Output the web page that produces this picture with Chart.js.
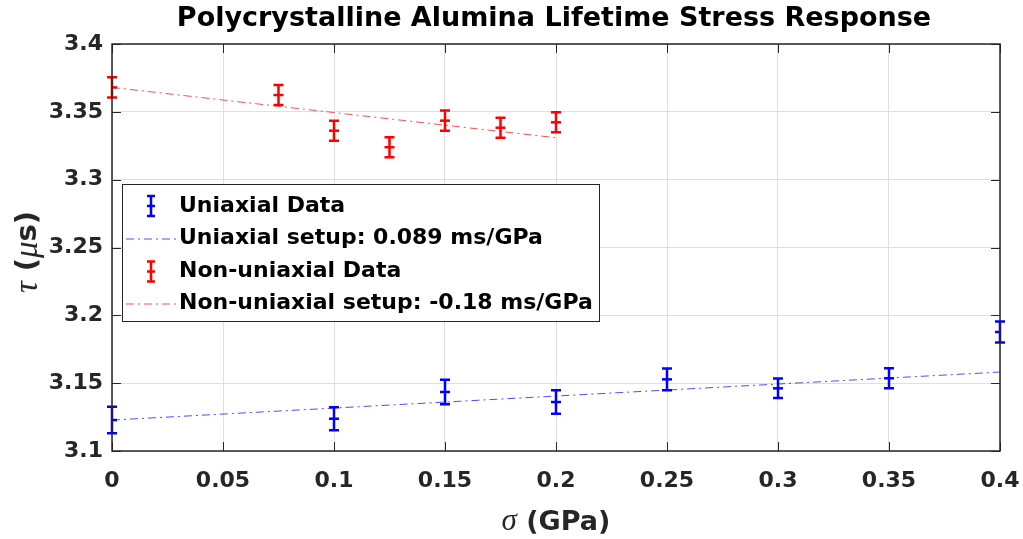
<!DOCTYPE html>
<html>
<head>
<meta charset="utf-8">
<script src="https://cdn.jsdelivr.net/npm/chart.js@4.4.1/dist/chart.umd.min.js"></script>
<style>
html,body{margin:0;padding:0;background:#fff;}
#wrap{width:1023px;height:539px;position:relative;}
</style>
</head>
<body>
<div id="wrap"><canvas id="c" width="1023" height="539"></canvas></div>
<script>
// ---- data ----
const uniX = [0, 0.1, 0.15, 0.2, 0.25, 0.3, 0.35, 0.4];
const uniY = [3.1228, 3.1238, 3.1435, 3.1361, 3.1528, 3.1462, 3.1536, 3.1877];
const uniErr = [0.0098, 0.0085, 0.009, 0.0087, 0.008, 0.0072, 0.0074, 0.0077];
const nonX = [0, 0.075, 0.1, 0.125, 0.15, 0.175, 0.2];
const nonY = [3.368, 3.3624, 3.3361, 3.3239, 3.3435, 3.3383, 3.3423];
const nonErr = [0.0074, 0.0074, 0.0074, 0.0074, 0.0074, 0.0074, 0.0074];
const uniFitX = [0, 0.4];
const uniFitY = [3.1228, 3.1582];
const nonFitX = [0, 0.2];
const nonFitY = [3.368, 3.3309];
const xTicks = [0, 0.05, 0.1, 0.15, 0.2, 0.25, 0.3, 0.35, 0.4];
const xTickLabels = ['0', '0.05', '0.1', '0.15', '0.2', '0.25', '0.3', '0.35', '0.4'];
const yTicks = [3.1, 3.15, 3.2, 3.25, 3.3, 3.35, 3.4];
const yTickLabels = ['3.1', '3.15', '3.2', '3.25', '3.3', '3.35', '3.4'];
const legendLabels = ['Uniaxial Data', 'Uniaxial setup: 0.089 ms/GPa', 'Non-uniaxial Data', 'Non-uniaxial setup: -0.18 ms/GPa'];
const titleText = 'Polycrystalline Alumina Lifetime Stress Response';

const BLUE = '#0000ff', RED = '#ff0000', AX = '#262626';
const FONT = '"DejaVu Sans", sans-serif';
const DASH = [8, 4, 2, 4];

const pts = (xs, ys) => xs.map((x, i) => ({x: x, y: ys[i]}));

const errorBars = {
  id: 'errorBars',
  afterDatasetsDraw(chart) {
    const ctx = chart.ctx, xs = chart.scales.x, ys = chart.scales.y;
    chart.data.datasets.forEach((ds, di) => {
      if (!ds.errors) return;
      ctx.save();
      ctx.strokeStyle = ds.borderColor;
      ctx.lineWidth = 2.5;
      ds.data.forEach((p, i) => {
        const px = xs.getPixelForValue(p.x);
        const y1 = ys.getPixelForValue(p.y - ds.errors[i]);
        const y2 = ys.getPixelForValue(p.y + ds.errors[i]);
        ctx.beginPath();
        ctx.moveTo(px, y1); ctx.lineTo(px, y2);
        ctx.moveTo(px - 5, y1); ctx.lineTo(px + 5, y1);
        ctx.moveTo(px - 5, y2); ctx.lineTo(px + 5, y2);
        ctx.stroke();
      });
      ctx.restore();
    });
  }
};

const frame = {
  id: 'frame',
  afterDraw(chart) {
    const ctx = chart.ctx, a = chart.chartArea, xs = chart.scales.x, ys = chart.scales.y;
    ctx.save();
    ctx.strokeStyle = AX;
    ctx.lineWidth = 1;
    ctx.beginPath();
    xTicks.forEach(v => {
      const px = Math.round(xs.getPixelForValue(v)) + 0.5;
      ctx.moveTo(px, a.bottom); ctx.lineTo(px, a.bottom - 9);
      ctx.moveTo(px, a.top); ctx.lineTo(px, a.top + 9);
    });
    yTicks.forEach(v => {
      const py = Math.round(ys.getPixelForValue(v)) + 0.5;
      ctx.moveTo(a.left, py); ctx.lineTo(a.left + 9, py);
      ctx.moveTo(a.right, py); ctx.lineTo(a.right - 9, py);
    });
    ctx.stroke();
    ctx.lineWidth = 1.5;
    ctx.strokeRect(a.left, a.top, a.right - a.left, a.bottom - a.top);

    // title
    ctx.fillStyle = '#000';
    ctx.font = 'bold 27px ' + FONT;
    ctx.textAlign = 'center';
    ctx.textBaseline = 'middle';
    ctx.fillText(titleText, 554, 19);

    // x axis title
    const xc = 556;
    const sigF = 'italic 31px "Liberation Serif", serif';
    const txtF = 'bold 27px ' + FONT;
    ctx.font = sigF;
    const s1 = 'σ';
    const w1 = ctx.measureText(s1).width;
    ctx.font = txtF;
    const s2 = ' (GPa)';
    const w2 = ctx.measureText(s2).width;
    let x0 = xc - (w1 + w2) / 2;
    ctx.textAlign = 'left';
    ctx.fillStyle = AX;
    ctx.font = sigF;
    ctx.fillText(s1, x0, 522);
    ctx.font = txtF;
    ctx.fillText(s2, x0 + w1, 523);

    // y axis title
    ctx.save();
    ctx.translate(28, 252);
    ctx.rotate(-Math.PI / 2);
    const grF = 'italic 33px "Liberation Serif", serif';
    const yF = 'bold 29px ' + FONT;
    const parts = [['τ', grF], [' (', yF], ['μ', grF], ['s)', yF]];
    let tw = 0;
    parts.forEach(p => { ctx.font = p[1]; tw += ctx.measureText(p[0]).width; });
    let cx = -tw / 2;
    parts.forEach(p => { ctx.font = p[1]; ctx.fillText(p[0], cx, 0); cx += ctx.measureText(p[0]).width; });
    ctx.restore();

    // legend
    const lx = 122, ly = 184, lw = 477, lh = 137;
    ctx.fillStyle = '#fff';
    ctx.fillRect(lx, ly, lw, lh);
    ctx.strokeStyle = AX;
    ctx.lineWidth = 1;
    ctx.strokeRect(lx + 0.5, ly + 0.5, lw, lh);
    const rows = [206, 238.5, 271.5, 303.5];
    const cols = [BLUE, BLUE, RED, RED];
    rows.forEach((ry, i) => {
      ctx.strokeStyle = cols[i];
      if (i % 2 === 0) {
        ctx.lineWidth = 2.5;
        ctx.beginPath();
        ctx.moveTo(151, ry - 10); ctx.lineTo(151, ry + 10);
        ctx.moveTo(147, ry - 10); ctx.lineTo(155, ry - 10);
        ctx.moveTo(147, ry + 10); ctx.lineTo(155, ry + 10);
        ctx.moveTo(147, ry); ctx.lineTo(155, ry);
        ctx.stroke();
      } else {
        ctx.lineWidth = 1;
        ctx.globalAlpha = 0.7;
        ctx.setLineDash(DASH);
        ctx.beginPath();
        ctx.moveTo(126, ry + 0.5); ctx.lineTo(176, ry + 0.5);
        ctx.stroke();
        ctx.setLineDash([]);
        ctx.globalAlpha = 1;
      }
      ctx.fillStyle = '#000';
      ctx.font = 'bold 22px ' + FONT;
      ctx.textAlign = 'left';
      ctx.textBaseline = 'middle';
      ctx.fillText(legendLabels[i], 179, ry);
    });
    ctx.restore();
  }
};

new Chart(document.getElementById('c'), {
  type: 'scatter',
  data: {
    datasets: [
      {label: legendLabels[0], data: pts(uniX, uniY), errors: uniErr, borderColor: BLUE, backgroundColor: BLUE,
       pointStyle: 'line', pointRadius: 5, pointBorderWidth: 2.5, pointHoverRadius: 5, showLine: false},
      {label: legendLabels[1], data: pts(uniFitX, uniFitY), borderColor: 'rgba(0,0,255,0.7)', borderWidth: 1,
       borderDash: DASH, showLine: true, pointRadius: 0, fill: false},
      {label: legendLabels[2], data: pts(nonX, nonY), errors: nonErr, borderColor: RED, backgroundColor: RED,
       pointStyle: 'line', pointRadius: 5, pointBorderWidth: 2.5, pointHoverRadius: 5, showLine: false},
      {label: legendLabels[3], data: pts(nonFitX, nonFitY), borderColor: 'rgba(255,0,0,0.7)', borderWidth: 1,
       borderDash: DASH, showLine: true, pointRadius: 0, fill: false}
    ]
  },
  options: {
    responsive: false,
    animation: false,
    events: [],
    layout: {padding: {left: 0, top: 44, right: 23, bottom: 0}},
    plugins: {legend: {display: false}, title: {display: false}, tooltip: {enabled: false}},
    scales: {
      x: {
        type: 'linear', min: 0, max: 0.4,
        afterBuildTicks: s => { s.ticks = xTicks.map(v => ({value: v})); },
        afterFit: s => { s.height = 88; s.paddingRight = 0; s.paddingLeft = 0; },
        ticks: {
          callback: (v) => { const i = xTicks.findIndex(t => Math.abs(t - v) < 1e-9); return i >= 0 ? xTickLabels[i] : ''; },
          color: AX, font: {family: FONT, weight: 'bold', size: 22}, padding: 17, maxRotation: 0, autoSkip: false
        },
        grid: {color: '#dfdfdf', lineWidth: 1, drawTicks: false},
        border: {display: false}
      },
      y: {
        type: 'linear', min: 3.1, max: 3.4,
        afterBuildTicks: s => { s.ticks = yTicks.map(v => ({value: v})); },
        afterFit: s => { s.width = 112; s.paddingTop = 0; s.paddingBottom = 0; },
        ticks: {
          callback: (v) => { const i = yTicks.findIndex(t => Math.abs(t - v) < 1e-9); return i >= 0 ? yTickLabels[i] : ''; },
          color: AX, font: {family: FONT, weight: 'bold', size: 22}, padding: 9, autoSkip: false
        },
        grid: {color: '#dfdfdf', lineWidth: 1, drawTicks: false},
        border: {display: false}
      }
    }
  },
  plugins: [errorBars, frame]
});
</script>
</body>
</html>
